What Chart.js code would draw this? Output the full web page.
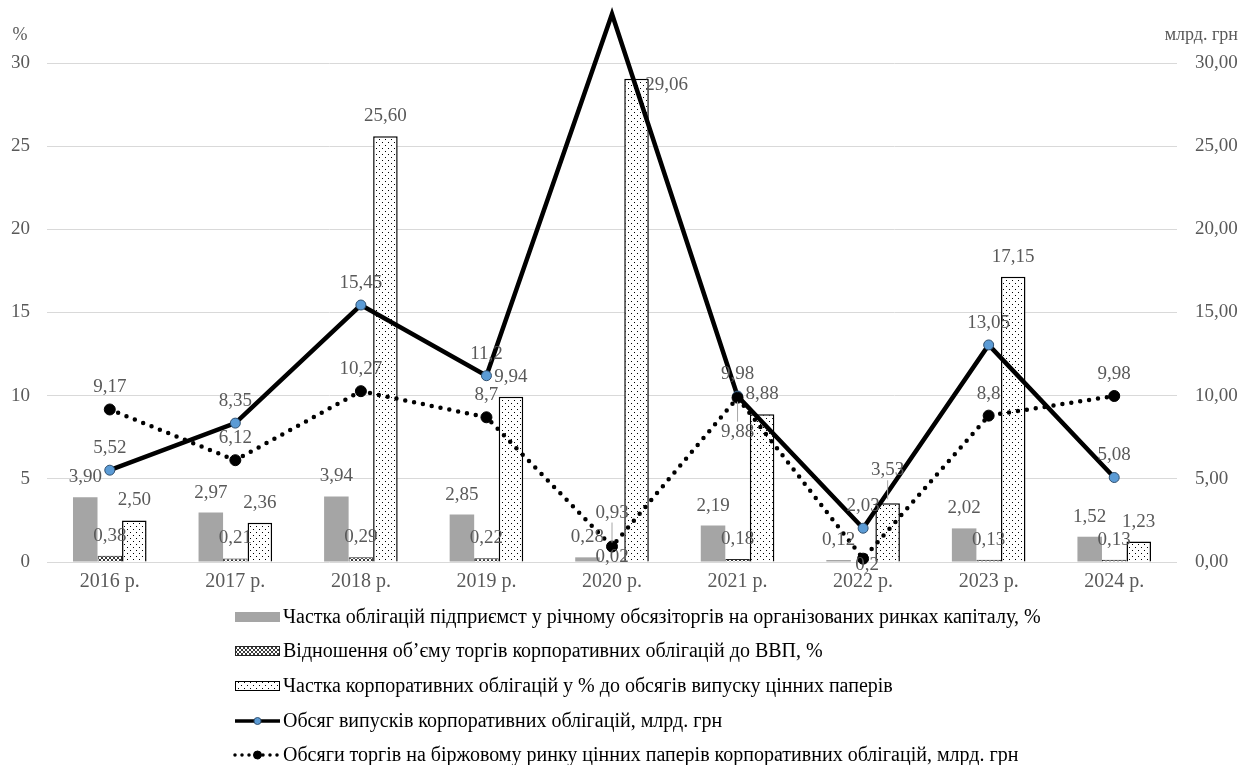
<!DOCTYPE html>
<html>
<head>
<meta charset="utf-8">
<script src="https://cdn.jsdelivr.net/npm/chart.js@4.4.1/dist/chart.umd.min.js"></script>
<style>
  html, body { margin: 0; padding: 0; background: #fff; }
  canvas { display: block; }
</style>
</head>
<body>
<canvas id="chart" width="1250" height="765"></canvas>
<script>
// Years on the category axis
const years = ['2016 р.', '2017 р.', '2018 р.', '2019 р.', '2020 р.', '2021 р.', '2022 р.', '2023 р.', '2024 р.'];

// Bars, % (left axis)
const shareOrganized = [3.90, 2.97, 3.94, 2.85, 0.28, 2.19, 0.12, 2.02, 1.52];
const tradeToGdp     = [0.38, 0.21, 0.29, 0.22, 0.02, 0.18, null, 0.13, 0.13];
const shareOfIssues  = [2.50, 2.36, 25.60, 9.94, 29.06, 8.88, 3.53, 17.15, 1.23];

// Lines, bn UAH (right axis)
const issueVolume = [5.52, 8.35, 15.45, 11.2, 32.95, 9.98, 2.03, 13.05, 5.08];
const tradeVolume = [9.17, 6.12, 10.27, 8.7, 0.93, 9.88, 0.2, 8.8, 9.98];

// Tick values shared by both vertical axes
const axisSteps = [0, 5, 10, 15, 20, 25, 30];

const seriesNames = [
  'Частка облігацій підприємст у річному обсязіторгів на організованих ринках капіталу, %',
  'Відношення об’єму торгів корпоративних облігацій до ВВП, %',
  'Частка корпоративних облігацій у % до обсягів випуску цінних паперів',
  'Обсяг випусків корпоративних облігацій, млрд. грн',
  'Обсяги торгів на біржовому ринку цінних паперів корпоративних облігацій, млрд. грн'
];

// Label placement tweaks where labels would collide ("dataset:index")
const labelNudges = {
  '1:4': { dy: 15 },
  '2:4': { dx: 30, dy: 26 },
  '2:6': { dy: -13, leader: true },
  '3:4': { hide: true },
  '4:4': { dy: -12, leader: true },
  '4:5': { dy: 56, leader: true },
  '4:6': { dx: 4, dy: 28 }
};

const GREY_TEXT = '#595959';
const GRID = '#d9d9d9';
const SERIF = '"Liberation Serif", "Times New Roman", serif';

const canvas = document.getElementById('chart');
const ctx = canvas.getContext('2d');

function tilePattern(w, h, paint) {
  const t = document.createElement('canvas');
  t.width = w; t.height = h;
  const g = t.getContext('2d');
  paint(g);
  return ctx.createPattern(t, 'repeat');
}

// small cross-hatch
const hatchFill = tilePattern(4, 4, g => {
  g.fillStyle = '#ffffff'; g.fillRect(0, 0, 4, 4);
  g.fillStyle = '#3a3a3a';
  for (let i = 0; i < 4; i++) { g.fillRect(i, i, 1, 1); g.fillRect(3 - i, i, 1, 1); }
});

// sparse dots
const dotFill = tilePattern(6, 6, g => {
  g.fillStyle = '#ffffff'; g.fillRect(0, 0, 6, 6);
  g.fillStyle = '#000000';
  g.fillRect(1, 1, 1, 1); g.fillRect(4, 4, 1, 1);
});

const fmtBar = v => v.toFixed(2).replace('.', ',');
const fmtLine = v => String(v).replace('.', ',');

const valueLabels = {
  id: 'valueLabels',
  afterDatasetsDraw(chart) {
    const c = chart.ctx;
    c.save();
    c.font = '19px ' + SERIF;
    c.fillStyle = GREY_TEXT;
    c.textAlign = 'center';
    c.textBaseline = 'middle';
    chart.data.datasets.forEach((ds, di) => {
      const meta = chart.getDatasetMeta(di);
      meta.data.forEach((el, i) => {
        const v = ds.data[i];
        if (v == null) return;
        const n = labelNudges[di + ':' + i] || {};
        if (n.hide) return;
        const isLine = ds.type === 'line';
        const text = isLine ? fmtLine(v) : fmtBar(v);
        const x = el.x + (n.dx || 0);
        const y = el.y - (isLine ? 22 : 20) + (n.dy || 0);
        if (n.leader) {
          c.save();
          c.strokeStyle = '#a6a6a6';
          c.lineWidth = 1;
          c.beginPath();
          if (y < el.y) { c.moveTo(x, y + 10); c.lineTo(el.x, el.y - 4); }
          else { c.moveTo(x, y - 10); c.lineTo(el.x, el.y + 4); }
          c.stroke();
          c.restore();
        }
        c.fillText(text, x, y);
      });
    });
    c.restore();
  }
};

const decorations = {
  id: 'decorations',
  afterDraw(chart) {
    const c = chart.ctx;
    c.save();
    // axis unit captions
    c.font = '18px ' + SERIF;
    c.fillStyle = GREY_TEXT;
    c.textBaseline = 'middle';
    c.textAlign = 'center';
    c.fillText('%', 20, 35);
    c.textAlign = 'right';
    c.fillText('млрд. грн', 1238, 35);

    // legend, one entry per row
    const rows = [617, 651, 686, 721, 755];
    const x0 = 235, x1 = 280;
    c.textAlign = 'left';
    c.font = '20px ' + SERIF;
    chart.data.datasets.forEach((ds, i) => {
      const y = rows[i];
      if (ds.type === 'line') {
        c.save();
        c.strokeStyle = ds.borderColor;
        c.lineWidth = ds.borderWidth - 1;
        c.lineCap = ds.borderCapStyle || 'butt';
        c.setLineDash(ds.borderDash ? [0, 7] : []);
        c.beginPath(); c.moveTo(x0, y); c.lineTo(x1, y); c.stroke();
        c.setLineDash([]);
        c.beginPath();
        c.arc((x0 + x1) / 2, y, ds.pointRadius - 1.5, 0, Math.PI * 2);
        c.fillStyle = ds.pointBackgroundColor;
        c.fill();
        c.lineWidth = 1;
        c.strokeStyle = ds.pointBorderColor;
        c.stroke();
        c.restore();
      } else {
        c.save();
        c.fillStyle = ds.backgroundColor;
        c.fillRect(x0, y - 5, x1 - x0, 10);
        if (ds.borderWidth) {
          c.strokeStyle = ds.borderColor;
          c.lineWidth = 1;
          c.strokeRect(x0 + 0.5, y - 4.5, x1 - x0 - 1, 9);
        }
        c.restore();
      }
      c.fillStyle = '#000000';
      c.fillText(seriesNames[i], x1 + 3, y + 1);
    });
    c.restore();
  }
};

const setSteps = scale => { scale.ticks = axisSteps.map(v => ({ value: v })); };

new Chart(ctx, {
  type: 'bar',
  data: {
    labels: years,
    datasets: [
      {
        label: seriesNames[0], data: shareOrganized, yAxisID: 'y',
        backgroundColor: '#a5a5a5', borderWidth: 0, order: 2
      },
      {
        label: seriesNames[1], data: tradeToGdp, yAxisID: 'y',
        backgroundColor: hatchFill, borderColor: '#262626', borderWidth: 1, order: 2
      },
      {
        label: seriesNames[2], data: shareOfIssues, yAxisID: 'y',
        backgroundColor: dotFill, borderColor: '#000000', borderWidth: 1.5, order: 2
      },
      {
        type: 'line', label: seriesNames[3], data: issueVolume, yAxisID: 'y2',
        borderColor: '#000000', borderWidth: 4.5, tension: 0,
        pointRadius: 5, pointBackgroundColor: '#5b9bd5', pointBorderColor: '#2f4f6f', pointBorderWidth: 1,
        clip: false, order: 1
      },
      {
        type: 'line', label: seriesNames[4], data: tradeVolume, yAxisID: 'y2',
        borderColor: '#000000', borderWidth: 4.5, tension: 0,
        borderDash: [0, 9], borderCapStyle: 'round',
        pointRadius: 5.5, pointBackgroundColor: '#000000', pointBorderColor: '#000000', pointBorderWidth: 1,
        clip: false, order: 0
      }
    ]
  },
  options: {
    responsive: false,
    animation: false,
    events: [],
    layout: { padding: { top: 63, bottom: 163, left: 0, right: 0 } },
    datasets: { bar: { categoryPercentage: 0.586, barPercentage: 1 } },
    plugins: { legend: { display: false }, tooltip: { enabled: false } },
    scales: {
      x: {
        grid: { display: false, drawTicks: false },
        border: { display: false },
        ticks: { color: GREY_TEXT, font: { family: SERIF, size: 20 }, padding: 8 },
        afterFit: s => { s.height = 40; }
      },
      y: {
        position: 'left', min: 0, max: 30,
        afterBuildTicks: setSteps,
        grid: { color: GRID, lineWidth: 1, drawTicks: false },
        border: { display: false },
        ticks: { color: GREY_TEXT, font: { family: SERIF, size: 19 }, padding: 17 },
        afterFit: s => { s.width = 47; }
      },
      y2: {
        position: 'right', min: 0, max: 30,
        afterBuildTicks: setSteps,
        grid: { display: false, drawTicks: false },
        border: { display: false },
        ticks: {
          color: GREY_TEXT, font: { family: SERIF, size: 19 }, padding: 18,
          callback: v => v.toFixed(2).replace('.', ',')
        },
        afterFit: s => { s.width = 73; }
      }
    }
  },
  plugins: [valueLabels, decorations]
});
</script>
</body>
</html>
